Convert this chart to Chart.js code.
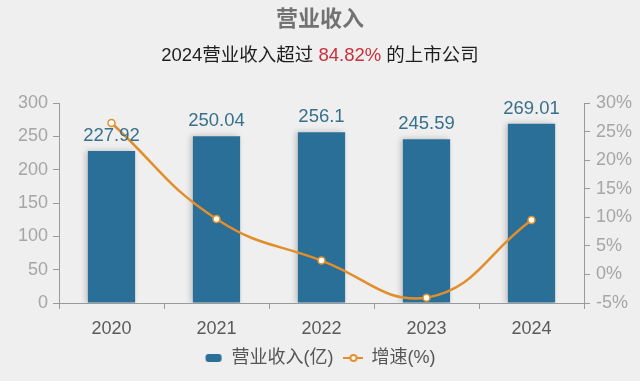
<!DOCTYPE html>
<html>
<head>
<meta charset="utf-8">
<script src="https://cdn.jsdelivr.net/npm/chart.js@4"></script>
<style>
  html, body { margin: 0; padding: 0; background: #efefef; }
  #wrap { width: 640px; height: 381px; position: relative; }
</style>
</head>
<body>
<div id="wrap"><canvas id="chart" width="640" height="381"></canvas></div>
<script>
const years = ['2020', '2021', '2022', '2023', '2024'];
const revenue = [227.92, 250.04, 256.1, 245.59, 269.01];
const growth = [26.5, 9.7, 2.42, -4.1, 9.54];
const leftTicks = [0, 50, 100, 150, 200, 250, 300];
const rightTicks = [-5, 0, 5, 10, 15, 20, 25, 30];

const FONT = '"Liberation Sans", Arial, "Noto Sans CJK SC", sans-serif';
const BAR_COLOR = '#2a6f97';
const LINE_COLOR = '#e28e2b';

// little canvases used as legend icons
function barIcon() {
  const c = document.createElement('canvas');
  c.width = 18; c.height = 10;
  const g = c.getContext('2d');
  g.fillStyle = BAR_COLOR;
  g.beginPath();
  g.roundRect(1, 1, 16, 8, 3);
  g.fill();
  return c;
}
function lineIcon() {
  const c = document.createElement('canvas');
  c.width = 20; c.height = 10;
  const g = c.getContext('2d');
  g.strokeStyle = LINE_COLOR;
  g.lineWidth = 2;
  g.beginPath(); g.moveTo(0, 5); g.lineTo(20, 5); g.stroke();
  g.fillStyle = '#fff';
  g.beginPath(); g.arc(10, 5, 3, 0, Math.PI * 2); g.fill(); g.stroke();
  return c;
}

// header lines (second one has a red part)
const headerPlugin = {
  id: 'header',
  afterDraw(chart) {
    const ctx = chart.ctx;
    ctx.save();
    ctx.textBaseline = 'middle';
    ctx.textAlign = 'center';
    ctx.fillStyle = '#727272';
    ctx.font = 'bold 22px ' + FONT;
    ctx.fillText('营业收入', 320, 20);

    const parts = [['2024营业收入超过 ', '#1e1e1e'], ['84.82%', '#c9303b'], [' 的上市公司', '#1e1e1e']];
    ctx.font = '18.5px ' + FONT;
    const total = parts.reduce((s, p) => s + ctx.measureText(p[0]).width, 0);
    let x = 320 - total / 2;
    ctx.textAlign = 'left';
    parts.forEach(p => {
      ctx.fillStyle = p[1];
      ctx.fillText(p[0], x, 56);
      x += ctx.measureText(p[0]).width;
    });
    ctx.restore();
  }
};

// value labels over the bars
const barLabels = {
  id: 'barLabels',
  afterDatasetsDraw(chart) {
    const ctx = chart.ctx;
    const meta = chart.getDatasetMeta(0);
    ctx.save();
    ctx.font = '18.5px ' + FONT;
    ctx.fillStyle = '#37708c';
    ctx.textAlign = 'center';
    ctx.textBaseline = 'bottom';
    meta.data.forEach((bar, i) => {
      ctx.fillText(String(revenue[i]), bar.x, bar.y - 6);
    });
    ctx.restore();
  }
};

// soft shadow behind bars
const barShadow = {
  id: 'barShadow',
  beforeDatasetDraw(chart, args) {
    if (args.index !== 0) return;
    const ctx = chart.ctx;
    ctx.save();
    ctx.shadowColor = 'rgba(0,0,0,0.22)';
    ctx.shadowBlur = 6;
    ctx.shadowOffsetX = -2;
  },
  afterDatasetDraw(chart, args) {
    if (args.index !== 0) return;
    chart.ctx.restore();
  }
};

new Chart(document.getElementById('chart'), {
  type: 'bar',
  data: {
    labels: years,
    datasets: [
      {
        type: 'bar',
        label: '营业收入(亿)',
        data: revenue,
        backgroundColor: BAR_COLOR,
        categoryPercentage: 0.45,
        barPercentage: 1,
        yAxisID: 'y',
        order: 2
      },
      {
        type: 'line',
        label: '增速(%)',
        data: growth,
        borderColor: LINE_COLOR,
        borderWidth: 2.5,
        tension: 0.45,
        pointRadius: 3.5,
        pointBorderWidth: 1.5,
        pointBackgroundColor: '#fff',
        pointBorderColor: LINE_COLOR,
        yAxisID: 'y1',
        order: 1
      }
    ]
  },
  options: {
    responsive: false,
    animation: false,
    layout: { padding: { top: 103, bottom: 4, left: 0, right: 0 } },
    plugins: {
      legend: {
        position: 'bottom',
        labels: {
          usePointStyle: true,
          color: '#555',
          font: { size: 18, family: FONT },
          padding: 11,
          generateLabels(chart) {
            return chart.data.datasets.map((ds, i) => ({
              text: ds.label,
              pointStyle: i === 0 ? barIcon() : lineIcon(),
              fillStyle: 'transparent',
              strokeStyle: 'transparent',
              lineWidth: 0,
              fontColor: '#555',
              datasetIndex: i
            }));
          }
        }
      },
      tooltip: { enabled: false }
    },
    scales: {
      x: {
        offset: true,
        grid: { offset: true, drawOnChartArea: false, drawTicks: true, tickLength: 6, color: '#9a9a9a' },
        border: { color: '#9a9a9a', width: 1 },
        ticks: { color: '#5a5a5a', font: { size: 18, family: FONT }, padding: 9 },
        afterFit(scale) { scale.height = 35; }
      },
      y: {
        position: 'left',
        min: 0, max: 300,
        afterBuildTicks(scale) { scale.ticks = leftTicks.map(v => ({ value: v })); },
        grid: { drawOnChartArea: false, tickLength: 6, color: '#9a9a9a' },
        border: { color: '#9a9a9a', width: 1 },
        ticks: { color: '#a6a6a6', font: { size: 18, family: FONT }, padding: 5 },
        afterFit(scale) { scale.width = 59; }
      },
      y1: {
        position: 'right',
        min: -5, max: 30,
        afterBuildTicks(scale) { scale.ticks = rightTicks.map(v => ({ value: v })); },
        grid: { drawOnChartArea: false, tickLength: 6, color: '#9a9a9a' },
        border: { color: '#9a9a9a', width: 1 },
        ticks: { color: '#a6a6a6', font: { size: 18, family: FONT }, padding: 6, callback: v => v + '%' },
        afterFit(scale) { scale.width = 56; }
      }
    }
  },
  plugins: [headerPlugin, barLabels, barShadow]
});
</script>
</body>
</html>
